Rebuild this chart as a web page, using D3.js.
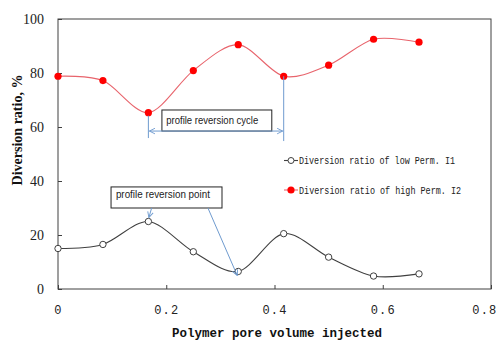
<!DOCTYPE html>
<html>
<head>
<meta charset="utf-8">
<script src="https://cdn.jsdelivr.net/npm/d3@7"></script>
<style>
  html, body { margin: 0; padding: 0; background: #fff; }
  svg { display: block; }
</style>
</head>
<body>
<svg id="chart" width="499" height="340"></svg>
<script>
const pvInjected = [0, 0.083, 0.167, 0.25, 0.333, 0.417, 0.5, 0.583, 0.667];
const lowPerm = [15.0, 16.5, 25.0, 13.8, 6.5, 20.5, 11.8, 4.8, 5.6];
const highPerm = [78.8, 77.2, 65.3, 80.9, 90.5, 78.8, 82.9, 92.5, 91.4];
const xTicks = [0, 0.2, 0.4, 0.6, 0.8];
const yTicks = [0, 20, 40, 60, 80, 100];
const legendLabels = ["Diversion ratio of low Perm. I1", "Diversion ratio of high Perm. I2"];

(function () {
  const svg = d3.select("#chart");
  const margin = { top: 19, right: 8, bottom: 51, left: 58 };
  const width = 499 - margin.left - margin.right;
  const height = 340 - margin.top - margin.bottom;

  const x = d3.scaleLinear().domain([0, 0.8]).range([margin.left, margin.left + width]);
  const y = d3.scaleLinear().domain([0, 100]).range([margin.top + height, margin.top]);

  const blue = "#6f9bcf";
  const frame = "#404040";

  // arrowhead marker
  svg.append("defs").append("marker")
    .attr("id", "head")
    .attr("viewBox", "0 0 10 10")
    .attr("refX", 9).attr("refY", 5)
    .attr("markerWidth", 7).attr("markerHeight", 7)
    .attr("orient", "auto-start-reverse")
    .append("path")
    .attr("d", "M1,1 L9,5 L1,9")
    .attr("fill", "none")
    .attr("stroke", blue)
    .attr("stroke-width", 1.3);

  // plot frame
  svg.append("rect")
    .attr("x", margin.left).attr("y", margin.top)
    .attr("width", width).attr("height", height)
    .attr("fill", "none").attr("stroke", frame).attr("stroke-width", 1);

  // ticks pointing inwards
  const yAxis = svg.append("g")
    .attr("transform", `translate(${margin.left},0)`)
    .call(d3.axisLeft(y).tickValues(yTicks).tickSize(-4).tickPadding(14).tickFormat(d3.format("d")));
  yAxis.select(".domain").remove();
  yAxis.selectAll("line").attr("stroke", frame);
  yAxis.selectAll("text")
    .attr("font-family", "'Liberation Serif', serif")
    .attr("font-size", 14)
    .attr("fill", "#222");

  const xAxis = svg.append("g")
    .attr("transform", `translate(0,${margin.top + height})`)
    .call(d3.axisBottom(x).tickValues(xTicks).tickSize(-4).tickPadding(16)
      .tickFormat((d) => (d === 0 ? "0" : d3.format(".1f")(d))));
  xAxis.select(".domain").remove();
  xAxis.selectAll("line").attr("stroke", frame);
  xAxis.selectAll("text")
    .attr("font-family", "'Liberation Mono', monospace")
    .attr("font-size", 12)
    .attr("letter-spacing", 1.2)
    .attr("fill", "#222");
  // last label sits at the window edge, keep it inside
  xAxis.selectAll(".tick").filter((d) => d === 0.8).select("text")
    .attr("text-anchor", "end").attr("dx", 6);

  // axis titles
  svg.append("text")
    .attr("transform", "translate(22,130) rotate(-90)")
    .attr("text-anchor", "middle")
    .attr("font-family", "'Liberation Serif', serif")
    .attr("font-weight", "bold")
    .attr("font-size", 14)
    .attr("fill", "#111")
    .text("Diversion ratio, %");

  svg.append("text")
    .attr("x", 277).attr("y", 337)
    .attr("text-anchor", "middle")
    .attr("font-family", "'Liberation Mono', monospace")
    .attr("font-weight", "bold")
    .attr("font-size", 12.5)
    .attr("fill", "#111")
    .text("Polymer pore volume injected");

  const line = d3.line()
    .x((d) => x(d[0]))
    .y((d) => y(d[1]))
    .curve(d3.curveCardinal.tension(0.1));

  const lowPts = pvInjected.map((v, i) => [v, lowPerm[i]]);
  const highPts = pvInjected.map((v, i) => [v, highPerm[i]]);

  svg.append("path").datum(highPts)
    .attr("d", line).attr("fill", "none")
    .attr("stroke", "#e8646c").attr("stroke-width", 1.1);
  svg.append("path").datum(lowPts)
    .attr("d", line).attr("fill", "none")
    .attr("stroke", "#404040").attr("stroke-width", 1.1);

  svg.append("g").selectAll("circle")
    .data(highPts).join("circle")
    .attr("cx", (d) => x(d[0])).attr("cy", (d) => y(d[1]))
    .attr("r", 3.6).attr("fill", "#ff0000");
  svg.append("g").selectAll("circle")
    .data(lowPts).join("circle")
    .attr("cx", (d) => x(d[0])).attr("cy", (d) => y(d[1]))
    .attr("r", 3.2).attr("fill", "#fff")
    .attr("stroke", "#404040").attr("stroke-width", 1);

  // legend
  const legend = svg.append("g");
  const legendY = [160.5, 190];
  legendLabels.forEach(function (label, i) {
    legend.append("line")
      .attr("x1", 284).attr("x2", 298)
      .attr("y1", legendY[i]).attr("y2", legendY[i])
      .attr("stroke", i === 0 ? "#404040" : "#e8646c").attr("stroke-width", 1.1);
    legend.append("circle")
      .attr("cx", 291).attr("cy", legendY[i])
      .attr("r", i === 0 ? 3 : 3.6)
      .attr("fill", i === 0 ? "#fff" : "#ff0000")
      .attr("stroke", i === 0 ? "#404040" : "none");
    legend.append("text")
      .attr("x", 299).attr("y", legendY[i] + 3.5)
      .attr("font-family", "'Liberation Mono', monospace")
      .attr("font-size", 10)
      .attr("textLength", i === 0 ? 156 : 162)
      .attr("lengthAdjust", "spacingAndGlyphs")
      .attr("fill", "#222")
      .text(label);
  });

  // annotation: reversion cycle
  const cycleY = 58.5;
  svg.append("line")
    .attr("x1", x(pvInjected[2])).attr("x2", x(pvInjected[2]))
    .attr("y1", y(highPerm[2]) + 3).attr("y2", y(cycleY) + 7)
    .attr("stroke", blue);
  svg.append("line")
    .attr("x1", x(pvInjected[5])).attr("x2", x(pvInjected[5]))
    .attr("y1", y(highPerm[5])).attr("y2", y(cycleY) + 10)
    .attr("stroke", blue);
  svg.append("rect")
    .attr("x", x(0.192)).attr("y", y(66.3))
    .attr("width", x(0.395) - x(0.192)).attr("height", y(cycleY) - y(66.3))
    .attr("fill", "#fff").attr("stroke", "#222").attr("stroke-width", 1);
  svg.append("line")
    .attr("x1", x(pvInjected[2]) + 1).attr("x2", x(pvInjected[5]) - 1)
    .attr("y1", y(cycleY)).attr("y2", y(cycleY))
    .attr("stroke", blue).attr("stroke-width", 1)
    .attr("marker-start", "url(#head)")
    .attr("marker-end", "url(#head)");
  svg.append("text")
    .attr("x", x(0.2)).attr("y", y(61.2))
    .attr("font-family", "'Liberation Sans', Arial, sans-serif")
    .attr("font-size", 10)
    .attr("textLength", 92)
    .attr("lengthAdjust", "spacingAndGlyphs")
    .attr("fill", "#222")
    .text("profile reversion cycle");

  // annotation: reversion point
  svg.append("rect")
    .attr("x", x(0.098)).attr("y", y(37.8))
    .attr("width", x(0.303) - x(0.098)).attr("height", y(30.0) - y(37.8))
    .attr("fill", "#fff").attr("stroke", "#222").attr("stroke-width", 1);
  svg.append("text")
    .attr("x", x(0.107)).attr("y", y(33.7))
    .attr("font-family", "'Liberation Sans', Arial, sans-serif")
    .attr("font-size", 10)
    .attr("textLength", 94)
    .attr("lengthAdjust", "spacingAndGlyphs")
    .attr("fill", "#222")
    .text("profile reversion point");
  svg.append("line")
    .attr("x1", x(0.173)).attr("y1", y(30.0))
    .attr("x2", x(pvInjected[2]) + 0.5).attr("y2", y(lowPerm[2]) - 4)
    .attr("stroke", blue).attr("marker-end", "url(#head)");
  svg.append("line")
    .attr("x1", x(0.277)).attr("y1", y(30.0))
    .attr("x2", x(pvInjected[4]) - 1).attr("y2", y(lowPerm[4]) + 4)
    .attr("stroke", blue).attr("marker-end", "url(#head)");
})();
</script>
</body>
</html>
